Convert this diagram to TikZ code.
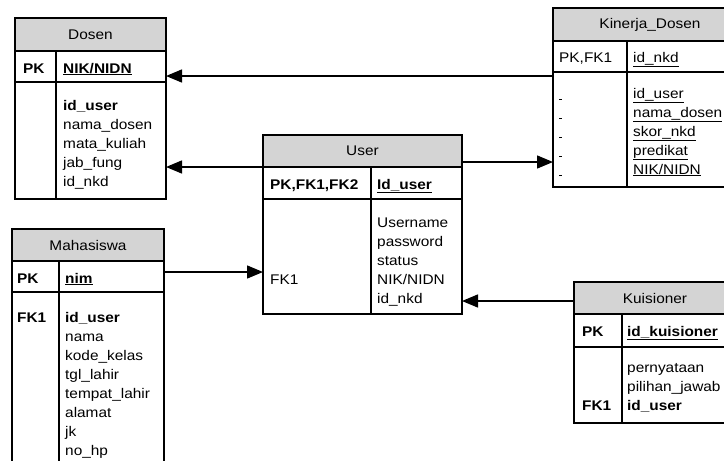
\documentclass[tikz,border=0pt]{standalone}
\usepackage{fontspec}
\setmainfont{Liberation Sans}[FakeStretch=1.1]
\usetikzlibrary{arrows.meta}
\definecolor{ttlgray}{RGB}{212,212,212}
\newcommand{\tblfont}{\fontsize{14pt}{19pt}\selectfont}
\begin{document}
\begin{tikzpicture}[x=1pt,y=-1pt]
\tikzstyle{cell}=[draw,line width=1.2pt,anchor=north west,inner sep=0pt,outer sep=0pt];
\tikzstyle{ttl}=[cell,fill=ttlgray,font=\tblfont];
\tikzstyle{txt}=[anchor=base west,inner sep=0pt,align=left,font=\tblfont];
\tikzstyle{fk}=[line width=1.5pt,-{Triangle[length=16pt,width=13pt]}];
\clip (0,0) rectangle (724,461);

% Dosen
\node [ttl,minimum width=151pt,minimum height=33pt] (dosenT) at (15,18) {Dosen};
\node [cell,minimum width=41pt,minimum height=31pt] (dosenKL) at (15,51) {};
\node [cell,minimum width=110pt,minimum height=31pt] (dosenKR) at (56,51) {};
\node [cell,minimum width=41pt,minimum height=117pt] (dosenBL) at (15,82) {};
\node [cell,minimum width=110pt,minimum height=117pt] (dosenBR) at (56,82) {};
\node [txt] at (23,73) {\textbf{PK}};
\node [txt] at (63,73) {\textbf{\underline{NIK/NIDN}}};
% base = last line
\node [txt] at (63,186) {\textbf{id\_user}\\nama\_dosen\\mata\_kuliah\\jab\_fung\\id\_nkd};

% Kinerja_Dosen
\node [ttl,minimum width=194pt,minimum height=33pt] (kinerjaT) at (553,8) {Kinerja\_Dosen};
\node [cell,minimum width=74pt,minimum height=31pt] (kinerjaKL) at (553,41) {};
\node [cell,minimum width=120pt,minimum height=31pt] (kinerjaKR) at (627,41) {};
\node [cell,minimum width=74pt,minimum height=115pt] (kinerjaBL) at (553,72) {};
\node [cell,minimum width=120pt,minimum height=115pt] (kinerjaBR) at (627,72) {};
\node [txt] at (559,62) {PK,FK1};
\node [txt] at (633,62) {\underline{id\_nkd}};
\node [txt] at (559,174) {\underline{\hspace{3pt}}\\\underline{\hspace{3pt}}\\\underline{\hspace{3pt}}\\\underline{\hspace{3pt}}\\\underline{\hspace{3pt}}};
\node [txt] at (633,174) {\underline{id\_user}\\\underline{nama\_dosen}\\\underline{skor\_nkd}\\\underline{predikat}\\\underline{NIK/NIDN}};

% User
\node [ttl,minimum width=199pt,minimum height=32pt] (userT) at (263,135) {User};
\node [cell,minimum width=108pt,minimum height=32pt] (userKL) at (263,167) {};
\node [cell,minimum width=91pt,minimum height=32pt] (userKR) at (371,167) {};
\node [cell,minimum width=108pt,minimum height=115pt] (userBL) at (263,199) {};
\node [cell,minimum width=91pt,minimum height=115pt] (userBR) at (371,199) {};
\node [txt] at (270,189) {\textbf{PK,FK1,FK2}};
\node [txt] at (377,189) {\textbf{\underline{Id\_user}}};
\node [txt] at (270,284) {FK1};
\node [txt] at (377,303) {Username\\password\\status\\NIK/NIDN\\id\_nkd};

% Mahasiswa
\node [ttl,minimum width=152pt,minimum height=32pt] (mhsT) at (12,229) {Mahasiswa};
\node [cell,minimum width=47pt,minimum height=31pt] (mhsKL) at (12,261) {};
\node [cell,minimum width=105pt,minimum height=31pt] (mhsKR) at (59,261) {};
\node [cell,minimum width=47pt,minimum height=190pt] (mhsBL) at (12,292) {};
\node [cell,minimum width=105pt,minimum height=190pt] (mhsBR) at (59,292) {};
\node [txt] at (17,283) {\textbf{PK}};
\node [txt] at (65,283) {\textbf{\underline{nim}}};
\node [txt] at (17,322) {\textbf{FK1}};
\node [txt] at (65,455) {\textbf{id\_user}\\nama\\kode\_kelas\\tgl\_lahir\\tempat\_lahir\\alamat\\jk\\no\_hp};

% Kuisioner
\node [ttl,minimum width=162pt,minimum height=32pt] (kuisT) at (574,282) {Kuisioner};
\node [cell,minimum width=48pt,minimum height=33pt] (kuisKL) at (574,314) {};
\node [cell,minimum width=114pt,minimum height=33pt] (kuisKR) at (622,314) {};
\node [cell,minimum width=48pt,minimum height=76pt] (kuisBL) at (574,347) {};
\node [cell,minimum width=114pt,minimum height=76pt] (kuisBR) at (622,347) {};
\node [txt] at (582,336) {\textbf{PK}};
\node [txt] at (627,336) {\textbf{\underline{id\_kuisioner}}};
\node [txt] at (582,410) {\textbf{FK1}};
\node [txt] at (627,410) {pernyataan\\pilihan\_jawab\\\textbf{id\_user}};

% relasi
\draw [fk] (kinerjaBL.west |- 0,76) -- (dosenKR.east |- 0,76);
\draw [fk] (userT.south west) -- (dosenBR.east |- userT.south west);
\draw [fk] (userT.east |- 0,162) -- (kinerjaBL.west |- 0,162);
\draw [fk] (mhsKR.east |- 0,272) -- (userBL.west |- 0,272);
\draw [fk] (kuisT.west |- 0,301) -- (userBR.east |- 0,301);
\end{tikzpicture}
\end{document}
